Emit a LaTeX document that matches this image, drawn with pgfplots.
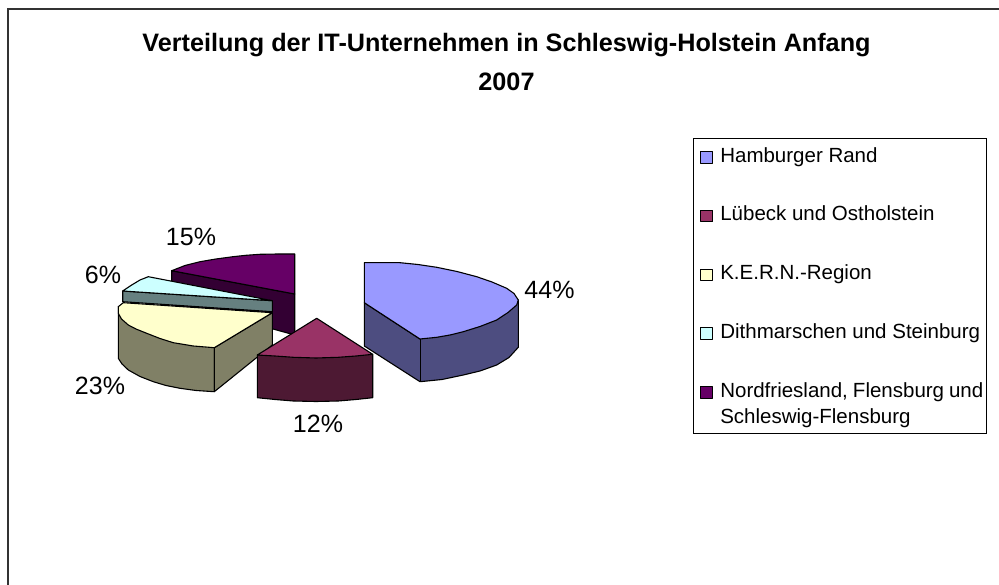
\documentclass[border=0pt]{standalone}
\usepackage{pgfplots}
\pgfplotsset{compat=1.18}
\usepackage{fontspec}
\setmainfont{Liberation Sans}
\definecolor{cBlue}{HTML}{9999FF}\definecolor{sBlue}{HTML}{4D4D80}
\definecolor{cMar}{HTML}{993366}\definecolor{sMar}{HTML}{4D1933}
\definecolor{cCre}{HTML}{FFFFCC}\definecolor{sCre}{HTML}{808066}
\definecolor{cCya}{HTML}{CCFFFF}\definecolor{sCya}{HTML}{668080}
\definecolor{cPur}{HTML}{660066}\definecolor{sPur}{HTML}{330033}
\newcommand\lstrut{\rule[-5pt]{0pt}{20pt}}
\pgfplotsset{
  face/.style={draw=black,line width=1.1pt,line join=round,no markers,fill=#1,forget plot},
  top/.style={draw=black,line width=1.1pt,line join=round,no markers,fill=#1,
    legend image code/.code={\path (-3pt,0pt); \draw[black,line width=1.1pt,fill=#1] (0pt,-1pt) rectangle (12pt,10.7pt);}},
}
\begin{document}
\begin{tikzpicture}
\begin{axis}[
  x=1pt,y=1pt,xmin=0,xmax=999,ymin=0,ymax=585,y dir=reverse,hide axis,clip=true,
  scale only axis,reverse legend,
  title={Verteilung der IT-Unternehmen in Schleswig-Holstein Anfang\\2007},
  title style={at={(0.507,0.883)},anchor=center,align=center,inner sep=0pt,
    font=\fontsize{25.2}{39}\selectfont\bfseries},
  legend style={at={(0.694,0.7636)},anchor=north west,draw=black,line width=0.8pt,
    font=\fontsize{20.5}{26}\selectfont,row sep=42.3pt,column sep=7pt,inner xsep=3.5pt,inner ysep=8.4pt,
    legend cell align=left,
    nodes={inner sep=0pt,anchor=base west}},
]
% frame
\addplot[black!80,line width=1.2pt,forget plot] coordinates {(8,590) (8,9) (1005,9)};
% Purple
\addplot[face=sPur] coordinates {(171.7,270.7)(294.7,294)(294.7,335)(273,329)(171.7,312)} -- cycle;
\addplot[top=cPur,legend image code/.code={\path (-3pt,0pt); \path (0pt,-27pt); \draw[black,line width=1.1pt,fill=cPur] (0pt,-1pt) rectangle (12pt,10.7pt);}] coordinates {(171.7,270.7)(185,265.5)(200,261.7)(216,259)(233,256.7)(246,255.3)(260,254.3)(278,254)(294.7,254)(294.7,294)} -- cycle;
\addlegendentry{\parbox[t]{263pt}{\lstrut Nordfriesland, Flensburg und\\Schleswig-Flensburg}}
% Cyan
\addplot[face=sCya] coordinates {(122.7,291)(272.3,300.7)(272.3,311.7)(122.7,301.7)} -- cycle;
\addplot[top=cCya] coordinates {(122.7,291)(131.7,285)(140,280)(148.3,276.7)(272.3,300.7)} -- cycle;
\addlegendentry{\lstrut Dithmarschen und Steinburg}
% Olive
\addplot[face=sCre] coordinates {(118.3,306.7)(118.3,358.3)(122,364)(128.3,370)(140,376.5)(153.3,381.7)(166,385.5)(180,388.3)(196,390.5)(214.3,391.7)(214.3,347.7)} -- cycle;
\addplot[face=sCre] coordinates {(214.3,347.7)(272.3,312.7)(272.3,345)(214.3,391.7)} -- cycle;
\addplot[top=cCre] coordinates {(118.3,306.7)(123.3,302.7)(272.3,312.7)(214.3,347.7)(193.3,346)(173.3,342.7)(160,338.5)(146.7,333.3)(136,329)(128.3,325)(121.5,319)(118.3,313.3)} -- cycle;
\addlegendentry{\lstrut K.E.R.N.-Region}
% Maroon
\addplot[face=sMar] coordinates {(257.3,355)(257.3,397.7)(275,399.5)(293.3,401)(316,401.5)(338.3,401)(356,399.5)(372.7,397.7)(372.7,354.3)} -- cycle;
\addplot[top=cMar] coordinates {(316.7,318.3)(372.7,354.3)(356,356)(338.3,357.3)(316,358)(293.3,357.3)(275,356)(257.3,355)} -- cycle;
\addlegendentry{\lstrut Lübeck und Ostholstein}
% Blue
\addplot[face=sBlue] coordinates {(364.3,302.7)(364.3,346)(420,381.7)(442,379.5)(463.3,375)(480,371)(496.7,365)(509,357.5)(518.3,347.3)(518.3,300)(420,339)} -- cycle;
\addplot[face=sBlue,line width=0.9pt] coordinates {(420,339)(420,381.7)};
\addplot[top=cBlue] coordinates {(364.3,262.7)(400,262.7)(418,264.5)(436.7,267.3)(457,271.5)(476.7,276.7)(492,282)(506.7,288.3)(514,293.5)(518.3,300)(516.7,305)(508,312.5)(496.7,320)(480,326.5)(463.3,331.7)(450,335)(436.7,337.3)(420,339)(364.3,302.7)} -- cycle;
\addlegendentry{\lstrut Hamburger Rand}
% percentage labels
\addplot[only marks,mark=none,forget plot,nodes near coords,point meta=explicit symbolic,
  nodes near coords style={anchor=center,font=\fontsize{25}{25}\selectfont,inner sep=0pt}]
  table[meta=l] {
x y l
549.5 290 44\%
318 424 12\%
100 386 23\%
103 275 6\%
191 237 15\%
};
\path (axis cs:0,0) -- (axis cs:999,585);
\end{axis}
\end{tikzpicture}
\end{document}
